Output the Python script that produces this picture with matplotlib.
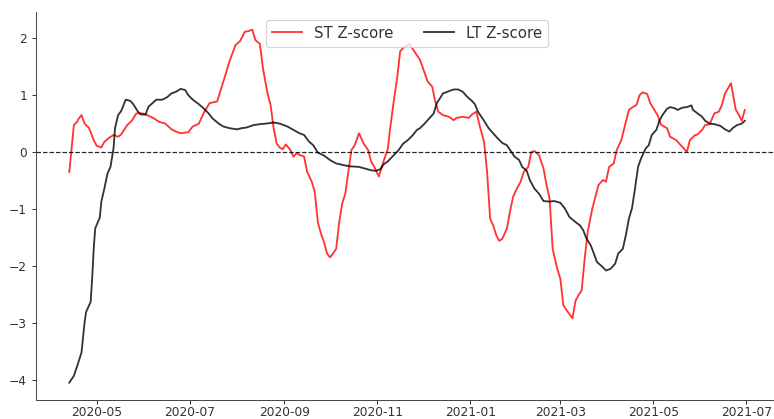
import numpy as np
import pandas as pd
import matplotlib
matplotlib.use("Agg")
import matplotlib.pyplot as plt
import matplotlib.dates as mdates

base_date = "2020-05-01"

# ST Z-score: (days since 2020-05-01, value)
st_days = [-18, -15, -13, -12, -10, -8, -5, -2, 0, 3, 5, 8, 11, 14, 16, 20, 23, 26, 30, 33,
           37, 41, 45, 49, 52, 55, 60, 63, 67, 70, 74, 79, 82, 85, 87, 91, 94, 97, 100, 102,
           104, 107, 109, 112, 114, 116, 118, 120, 122, 124, 127, 129, 131, 133, 136, 138, 141,
           143, 145, 147, 149, 151, 153, 155, 157, 159, 161, 163, 165, 167, 169, 172, 175, 178,
           180, 182, 185, 188, 191, 192, 195, 197, 199, 201, 204, 205, 209, 212, 214, 217, 220,
           222, 224, 227, 231, 234, 236, 240, 244, 246, 249, 251, 254, 256, 258, 260, 262, 264,
           266, 269, 271, 273, 275, 278, 280, 283, 285, 287, 290, 293, 295, 297, 299, 302, 304,
           306, 309, 312, 314, 316, 318, 320, 322, 325, 327, 329, 332, 334, 336, 339, 341, 344,
           346, 349, 351, 354, 356, 358, 361, 363, 365, 368, 370, 374, 376, 380, 382, 385, 387,
           389, 392, 394, 397, 399, 402, 405, 408, 410, 412, 414, 416, 418, 419, 421, 423, 425]
st_vals = [-0.35, 0.475, 0.53, 0.58, 0.65, 0.50, 0.42, 0.21, 0.11, 0.08, 0.18, 0.25, 0.30, 0.27,
           0.31, 0.475, 0.55, 0.68, 0.68, 0.65, 0.60, 0.53, 0.50, 0.40, 0.36, 0.33, 0.35, 0.45,
           0.50, 0.68, 0.86, 0.89, 1.15, 1.41, 1.59, 1.88, 1.95, 2.11, 2.13, 2.15, 1.97, 1.90,
           1.47, 1.03, 0.83, 0.42, 0.15, 0.08, 0.05, 0.135, 0.035, -0.08, -0.02, -0.05, -0.08,
           -0.35, -0.52, -0.70, -1.23, -1.43, -1.58, -1.78, -1.85, -1.78, -1.70, -1.23, -0.90,
           -0.73, -0.35, 0.035, 0.11, 0.33, 0.15, 0.035, -0.17, -0.26, -0.43, -0.17, 0.065, 0.33,
           0.94, 1.30, 1.77, 1.83, 1.88, 1.90, 1.74, 1.62, 1.47, 1.24, 1.15, 0.89, 0.71, 0.65,
           0.62, 0.56, 0.60, 0.62, 0.60, 0.66, 0.71, 0.475, 0.18, -0.35, -1.17, -1.29, -1.46,
           -1.56, -1.52, -1.34, -1.05, -0.79, -0.67, -0.52, -0.35, -0.26, 0.0, 0.02, -0.05, -0.29,
           -0.58, -0.82, -1.70, -2.05, -2.22, -2.69, -2.81, -2.92, -2.61, -2.51, -2.43, -1.87,
           -1.40, -0.99, -0.79, -0.58, -0.49, -0.52, -0.26, -0.20, 0.035, 0.21, 0.42, 0.74, 0.78,
           0.83, 1.00, 1.05, 1.02, 0.86, 0.77, 0.64, 0.48, 0.42, 0.27, 0.21, 0.15, 0.065, 0.0,
           0.21, 0.29, 0.31, 0.39, 0.475, 0.49, 0.68, 0.71, 0.83, 1.03, 1.12, 1.21, 0.90, 0.75,
           0.66, 0.55, 0.74]

# LT Z-score: (days since 2020-05-01, value)
lt_days = [-18, -15, -12, -10, -8, -7, -4, -3, -2, -1, 2, 3, 5, 7, 9, 11, 12, 14, 16, 19, 22,
           24, 27, 29, 32, 34, 37, 39, 43, 46, 49, 52, 55, 58, 60, 63, 67, 70, 73, 76, 80, 83,
           87, 92, 95, 98, 103, 107, 111, 116, 120, 125, 129, 133, 136, 139, 142, 145, 149, 153,
           157, 162, 166, 172, 176, 180, 183, 186, 188, 191, 195, 198, 201, 204, 207, 210, 212,
           215, 218, 221, 223, 225, 227, 231, 234, 237, 240, 243, 246, 248, 250, 254, 257, 260,
           263, 266, 269, 272, 274, 277, 279, 282, 284, 287, 290, 293, 297, 300, 304, 307, 310,
           314, 317, 319, 321, 324, 326, 328, 331, 334, 337, 340, 342, 345, 347, 349, 351, 353,
           355, 357, 360, 362, 364, 367, 369, 371, 374, 376, 379, 381, 384, 387, 390, 391, 394,
           397, 399, 402, 405, 409, 412, 415, 417, 420, 423, 425]
lt_vals = [-4.05, -3.93, -3.69, -3.52, -3.00, -2.81, -2.63, -2.22, -1.70, -1.34, -1.15, -0.87,
           -0.64, -0.38, -0.26, 0.065, 0.42, 0.65, 0.72, 0.92, 0.90, 0.84, 0.71, 0.66, 0.66,
           0.80, 0.87, 0.92, 0.92, 0.96, 1.03, 1.06, 1.11, 1.09, 1.00, 0.92, 0.84, 0.77, 0.69,
           0.59, 0.50, 0.45, 0.42, 0.40, 0.42, 0.43, 0.475, 0.49, 0.50, 0.52, 0.50, 0.45, 0.39,
           0.33, 0.30, 0.19, 0.12, -0.01, -0.06, -0.14, -0.20, -0.23, -0.25, -0.26, -0.29, -0.32,
           -0.33, -0.30, -0.22, -0.16, -0.05, 0.035, 0.15, 0.21, 0.29, 0.39, 0.42, 0.50, 0.59,
           0.68, 0.86, 0.94, 1.03, 1.07, 1.10, 1.10, 1.06, 0.97, 0.90, 0.84, 0.71, 0.55, 0.42,
           0.33, 0.24, 0.16, 0.12, 0.0, -0.08, -0.14, -0.26, -0.33, -0.49, -0.64, -0.73, -0.86,
           -0.87, -0.86, -0.89, -0.99, -1.14, -1.23, -1.29, -1.37, -1.51, -1.64, -1.78, -1.93,
           -2.00, -2.08, -2.05, -1.96, -1.78, -1.70, -1.46, -1.17, -0.99, -0.64, -0.26, -0.11,
           0.065, 0.12, 0.30, 0.39, 0.55, 0.65, 0.76, 0.79, 0.77, 0.74, 0.78, 0.79, 0.82, 0.74,
           0.68, 0.62, 0.55, 0.50, 0.49, 0.46, 0.40, 0.36, 0.42, 0.475, 0.50, 0.55]

labels = ["ST Z-score", "LT Z-score"]

st_dates = pd.Timestamp(base_date) + pd.to_timedelta(st_days, unit="D")
lt_dates = pd.Timestamp(base_date) + pd.to_timedelta(lt_days, unit="D")

DPI = 88
fig = plt.figure(figsize=(774 / DPI, 419 / DPI), dpi=DPI)
ax = fig.add_axes([0.0459, 0.0446, 0.960, 0.9267])

ax.plot(st_dates, st_vals, color="red", alpha=0.8, lw=1.5, label=labels[0])
ax.plot(lt_dates, lt_vals, color="black", alpha=0.8, lw=1.5, label=labels[1])
ax.axhline(0, color="black", linestyle="--", linewidth=1.0, alpha=0.85)

ax.xaxis.set_major_locator(mdates.MonthLocator(bymonth=[1, 3, 5, 7, 9, 11]))
ax.xaxis.set_major_formatter(mdates.DateFormatter("%Y-%m"))

for side in ["top", "right"]:
    ax.spines[side].set_visible(False)
for side in ["left", "bottom"]:
    ax.spines[side].set_color("#444444")
ax.tick_params(labelsize=10, colors="#333333")
ax.tick_params(axis="x", pad=1.5)

leg = ax.legend(loc="upper center", ncol=2, fontsize=12.3)
for t in leg.get_texts():
    t.set_color("#333333")

fig.savefig("out.png", dpi=DPI)
